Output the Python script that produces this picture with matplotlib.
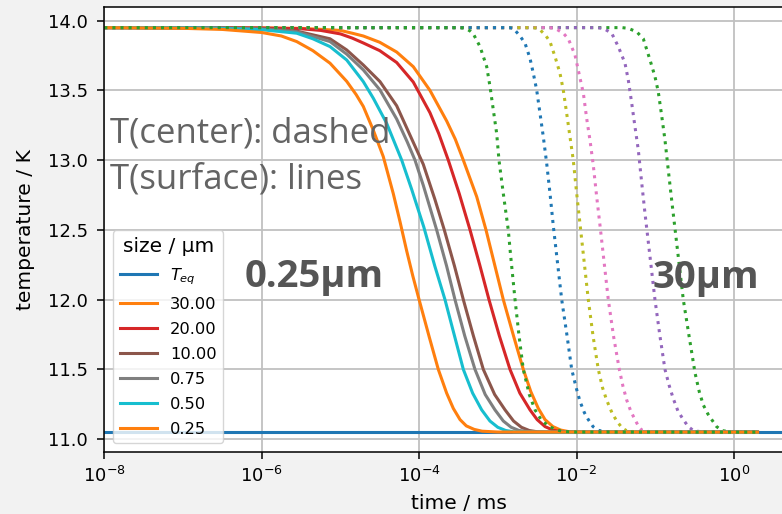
import numpy as np
import matplotlib.pyplot as plt

# equilibrium temperature (K)
T_eq = 11.05
t_eq = [1e-8, 1e1]

sizes = [30.0, 20.0, 10.0, 0.75, 0.50, 0.25]
surf_colors = ['tab:orange', 'tab:red', 'tab:brown', 'tab:gray', 'tab:cyan', 'tab:orange']
cent_colors = ['tab:green', 'tab:purple', 'tab:pink', 'tab:olive', 'tab:blue', 'tab:green']

# surface temperatures (solid lines), time given as log10(t / ms)
lt_surf_30 = [-8, -6.5, -6, -5.5, -5.0, -4.85, -4.709, -4.5, -4.285, -4.074, -3.862, -3.649, -3.54, -3.438, -3.268, -3.15, -3.04,
              -2.93, -2.8, -2.676, -2.58, -2.485, -2.4, -2.3, -2.2, -2.1, -1.9, 0.3]
T_surf_30 = [13.95, 13.949, 13.948, 13.945, 13.93, 13.91, 13.89, 13.845, 13.775, 13.67, 13.50, 13.28, 13.15, 13.0, 12.738, 12.5, 12.25,
             12.0, 11.74, 11.5, 11.34, 11.22, 11.14, 11.09, 11.065, 11.054, 11.05, 11.05]

lt_surf_20 = [-8, -6.5, -6, -5.5, -5.25, -5.0, -4.85, -4.709, -4.5, -4.285, -4.074, -3.862, -3.75, -3.629, -3.49, -3.353, -3.23,
              -3.112, -2.98, -2.845, -2.72, -2.591, -2.5, -2.4, -2.3, -2.2, -2.0, 0.3]
T_surf_20 = [13.95, 13.949, 13.947, 13.942, 13.93, 13.905, 13.875, 13.84, 13.785, 13.70, 13.56, 13.34, 13.19, 13.0, 12.76, 12.5, 12.25,
             12.0, 11.74, 11.5, 11.33, 11.21, 11.14, 11.09, 11.065, 11.054, 11.05, 11.05]

lt_surf_10 = [-8, -6.5, -6, -5.555, -5.132, -4.92, -4.709, -4.497, -4.285, -4.116, -3.947, -3.8, -3.68, -3.55, -3.438,
              -3.31, -3.184, -3.04, -2.908, -2.8, -2.7, -2.6, -2.5, -2.3, 0.3]
T_surf_10 = [13.95, 13.948, 13.945, 13.925, 13.87, 13.79, 13.682, 13.563, 13.39, 13.18, 12.97, 12.72, 12.5, 12.24, 12.0,
             11.74, 11.5, 11.32, 11.21, 11.13, 11.085, 11.062, 11.053, 11.05, 11.05]

lt_surf_075 = [-8, -6.5, -6, -5.555, -5.132, -4.92, -4.709, -4.497, -4.285, -4.15, -4.052, -3.947, -3.777, -3.65, -3.544,
               -3.42, -3.29, -3.16, -3.036, -2.93, -2.83, -2.73, -2.6, -2.4, 0.3]
T_surf_075 = [13.95, 13.947, 13.94, 13.92, 13.85, 13.76, 13.647, 13.503, 13.295, 13.13, 13.0, 12.82, 12.5, 12.24, 12.0,
              11.74, 11.5, 11.32, 11.21, 11.13, 11.085, 11.062, 11.053, 11.05, 11.05]

lt_surf_050 = [-8, -7, -6.5, -6, -5.555, -5.35, -5.132, -4.92, -4.709, -4.582, -4.412, -4.221, -4.094, -3.94, -3.8, -3.671,
               -3.55, -3.438, -3.32, -3.205, -3.1, -3.0, -2.9, -2.8, -2.6, 0.3]
T_surf_050 = [13.95, 13.948, 13.945, 13.935, 13.91, 13.87, 13.814, 13.718, 13.563, 13.444, 13.264, 13.0, 12.79, 12.52, 12.24, 12.0,
              11.74, 11.5, 11.33, 11.21, 11.13, 11.085, 11.062, 11.053, 11.05, 11.05]

lt_surf_025 = [-8, -7, -6.5, -6, -5.75, -5.555, -5.35, -5.132, -4.92, -4.8, -4.709, -4.582, -4.455, -4.328, -4.243, -4.158,
               -4.08, -4.0, -3.87, -3.756, -3.65, -3.565, -3.48, -3.4, -3.3, -3.2, -3.0, 0.3]
T_surf_025 = [13.95, 13.945, 13.937, 13.915, 13.89, 13.85, 13.785, 13.695, 13.565, 13.47, 13.385, 13.215, 13.025, 12.76, 12.56, 12.35,
              12.17, 12.0, 11.73, 11.5, 11.33, 11.22, 11.14, 11.095, 11.07, 11.057, 11.051, 11.05]

# center temperatures (dotted lines)
lt_cent_30 = [-8, -1.42, -1.342, -1.235, -1.151, -1.066, -1.003, -0.961, -0.918, -0.876, -0.834, -0.791, -0.755, -0.643,
              -0.57, -0.494, -0.44, -0.389, -0.33, -0.282, -0.22, -0.155, -0.05, 0.3]
T_cent_30 = [13.95, 13.95, 13.945, 13.92, 13.87, 13.718, 13.599, 13.49, 13.32, 13.145, 12.93, 12.715, 12.54, 12.0,
             11.74, 11.475, 11.34, 11.245, 11.18, 11.14, 11.09, 11.062, 11.052, 11.05]

lt_cent_20 = [-8, -1.75, -1.659, -1.553, -1.469, -1.384, -1.342, -1.299, -1.257, -1.215, -1.171, -1.130, -1.003, -0.94,
              -0.876, -0.82, -0.770, -0.71, -0.643, -0.58, -0.516, -0.42, -0.3, 0.3]
T_cent_20 = [13.95, 13.95, 13.945, 13.91, 13.814, 13.695, 13.575, 13.41, 13.24, 13.074, 12.835, 12.62, 12.0, 11.74,
             11.5, 11.38, 11.29, 11.2, 11.14, 11.09, 11.062, 11.053, 11.05, 11.05]

lt_cent_10 = [-8, -2.35, -2.273, -2.168, -2.104, -2.019, -1.955, -1.913, -1.871, -1.828, -1.786, -1.744, -1.701, -1.596,
              -1.53, -1.456, -1.41, -1.362, -1.31, -1.257, -1.21, -1.171, -1.07, -0.9, 0.3]
T_cent_10 = [13.95, 13.95, 13.945, 13.91, 13.87, 13.754, 13.587, 13.48, 13.30, 13.14, 12.96, 12.74, 12.53, 12.0,
             11.74, 11.5, 11.38, 11.28, 11.2, 11.14, 11.09, 11.065, 11.053, 11.05, 11.05]

lt_cent_075 = [-8, -2.55, -2.485, -2.400, -2.337, -2.273, -2.210, -2.168, -2.125, -2.083, -2.041, -1.998, -1.955, -1.850,
               -1.79, -1.723, -1.67, -1.617, -1.55, -1.489, -1.42, -1.362, -1.25, -1.1, 0.3]
T_cent_075 = [13.95, 13.95, 13.945, 13.9, 13.85, 13.742, 13.623, 13.503, 13.336, 13.168, 13.0, 12.763, 12.54, 12.0,
              11.74, 11.5, 11.37, 11.28, 11.19, 11.13, 11.08, 11.06, 11.052, 11.05, 11.05]

lt_cent_050 = [-8, -2.85, -2.803, -2.718, -2.654, -2.591, -2.549, -2.506, -2.464, -2.422, -2.379, -2.337, -2.295, -2.188,
               -2.12, -2.061, -2.0, -1.955, -1.9, -1.850, -1.79, -1.723, -1.62, -1.5, 0.3]
T_cent_050 = [13.95, 13.95, 13.945, 13.89, 13.838, 13.73, 13.623, 13.503, 13.336, 13.168, 12.978, 12.763, 12.53, 12.0,
              11.74, 11.5, 11.36, 11.27, 11.19, 11.14, 11.09, 11.063, 11.053, 11.05, 11.05]

lt_cent_025 = [-8, -3.5, -3.44, -3.395, -3.35, -3.311, -3.226, -3.141, -3.099, -3.057, -3.014, -2.985, -2.930, -2.867,
               -2.836, -2.781, -2.73, -2.676, -2.6, -2.527, -2.45, -2.36, -2.26, -2.168, -2.0, 0.3]
T_cent_025 = [13.95, 13.95, 13.948, 13.94, 13.925, 13.905, 13.814, 13.67, 13.527, 13.36, 13.19, 13.0, 12.76, 12.5,
              12.31, 12.0, 11.74, 11.5, 11.32, 11.21, 11.14, 11.095, 11.067, 11.055, 11.051, 11.05]

surface = [(lt_surf_30, T_surf_30), (lt_surf_20, T_surf_20), (lt_surf_10, T_surf_10),
           (lt_surf_075, T_surf_075), (lt_surf_050, T_surf_050), (lt_surf_025, T_surf_025)]
center = [(lt_cent_30, T_cent_30), (lt_cent_20, T_cent_20), (lt_cent_10, T_cent_10),
          (lt_cent_075, T_cent_075), (lt_cent_050, T_cent_050), (lt_cent_025, T_cent_025)]

fig = plt.figure(figsize=(7.82, 5.14), dpi=100, facecolor='#f2f2f2')
ax = fig.add_axes([104.3 / 782, 61.6 / 514, 708.3 / 782, 445.0 / 514])

lw = 2.2
ax.plot(t_eq, [T_eq, T_eq], color='tab:blue', lw=lw, label='$T_{eq}$')
# surface then center for each size
for i, s in enumerate(sizes):
    lts, Ts = surface[i]
    ltc, Tc = center[i]
    ax.plot(10 ** np.array(lts), Ts, color=surf_colors[i], lw=lw, label=f'{s:.2f}')
    ax.plot(10 ** np.array(ltc), Tc, color=cent_colors[i], lw=lw, ls=':')

ax.set_xscale('log')
ax.set_xlim(1e-8, 1e1)
ax.set_ylim(10.905, 14.095)
ax.set_xticks([1e-8, 1e-6, 1e-4, 1e-2, 1e0])
ax.xaxis.set_minor_locator(plt.NullLocator())
ax.set_yticks([11.0, 11.5, 12.0, 12.5, 13.0, 13.5, 14.0])
ax.grid(True, color='#c0c0c0', lw=1.3)
ax.tick_params(labelsize=13, length=5, width=1.1)
ax.tick_params(axis='y', pad=7)
ax.tick_params(axis='x', pad=5)
for sp in ax.spines.values():
    sp.set_linewidth(1.1)
ax.set_xlabel('time / ms', fontsize=14.6, labelpad=5.5)
ax.set_ylabel('temperature / K', fontsize=14.6, labelpad=9)

ax.text(10 ** -7.93, 13.13, 'T(center): dashed', fontsize=25, color='#646464',
        family='Open Sans', va='baseline')
ax.text(10 ** -7.93, 12.80, 'T(surface): lines', fontsize=25, color='#646464',
        family='Open Sans', va='baseline')
ax.text(10 ** -6.212, 12.09, '0.25µm', fontsize=27.5, color='#555555',
        family='Open Sans', weight='bold', va='baseline')
ax.text(10 ** -1.028, 12.08, '30µm', fontsize=27.5, color='#555555',
        family='Open Sans', weight='bold', va='baseline')

ax.legend(title='size / µm', loc='lower left', fontsize=11.7, title_fontsize=14.5,
          handlelength=2.3, labelspacing=0.62, borderaxespad=0.55)

fig.savefig('out.png', dpi=100, facecolor=fig.get_facecolor())
